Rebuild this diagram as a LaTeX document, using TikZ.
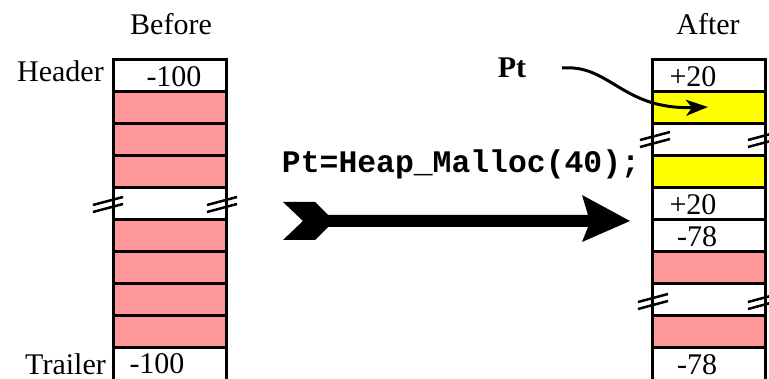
\documentclass[tikz,border=0pt]{standalone}
\usepackage{fontspec}
\setmainfont{Liberation Serif}
\setmonofont{Liberation Mono}
\usetikzlibrary{arrows.meta}
\definecolor{cellpink}{HTML}{FF9999}
\definecolor{cellyellow}{HTML}{FFFF00}
\newcommand\breakmark[3]{%
  \draw[brk] (#2-15,#3+0) -- (#2+15,#3-8);
  \draw[brk] (#2-15,#3+7) -- (#2+15,#3-1);
  \coordinate (#1) at (#2,#3);}
\begin{document}
\begin{tikzpicture}[x=1pt,y=-1pt,
  cell/.style={draw, line width=3pt, minimum width=113pt, minimum height=32pt,
               inner sep=0pt, outer sep=0pt, anchor=north west},
  wcell/.style={cell, fill=white},
  pcell/.style={cell, fill=cellpink},
  ycell/.style={cell, fill=cellyellow},
  txt/.style={font=\fontsize{30}{34}\selectfont, anchor=base, inner sep=0pt},
  brk/.style={line width=2.5pt},
  ptr/.style={line width=3pt, -{Stealth[length=22pt,width=16pt,inset=6pt]}}]
\useasboundingbox (0,0) rectangle (769,379);
\clip (0,0) rectangle (769,379);

% Before column
\node[wcell] (L0) at (113,60) {};
\node[pcell] (L1) at (113,92) {};
\node[pcell] (L2) at (113,124) {};
\node[pcell] (L3) at (113,156) {};
\node[wcell] (L4) at (113,188) {};
\node[pcell] (L5) at (113,220) {};
\node[pcell] (L6) at (113,252) {};
\node[pcell] (L7) at (113,284) {};
\node[pcell] (L8) at (113,316) {};
\node[cell, minimum height=40pt] (L9) at (113,348) {};
\breakmark{bl1}{108}{205}
\breakmark{bl2}{222}{205}

% After column
\node[wcell] (R0) at (652,60) {};
\node[ycell] (R1) at (652,92) {};
\node[wcell] (R2) at (652,124) {};
\node[ycell] (R3) at (652,156) {};
\node[wcell] (R4) at (652,188) {};
\node[wcell] (R5) at (652,220) {};
\node[pcell] (R6) at (652,252) {};
\node[wcell] (R7) at (652,284) {};
\node[pcell] (R8) at (652,316) {};
\node[cell, minimum height=40pt] (R9) at (652,348) {};
\breakmark{br1}{655}{140}
\breakmark{br2}{763}{140}
\breakmark{br3}{653}{302}
\breakmark{br4}{763}{302}

% Labels
\node[txt] (before) at (171,35) {Before};
\node[txt] (after) at (708,35) {After};
\node[txt, anchor=base east] (header) at (104,82) {Header};
\node[txt, anchor=base east] (trailer) at (106,375) {Trailer};
\node[txt] (h100) at (174,87) {-100};
\node[txt] (t100) at (157,374) {-100};
\node[txt] (r20a) at (693,87) {+20};
\node[txt] (r20b) at (693,215) {+20};
\node[txt] (r78a) at (697,247) {-78};
\node[txt] (r78b) at (697,375) {-78};
\node[txt, font=\fontsize{30}{34}\selectfont\bfseries] (pt) at (512,78) {Pt};
\node[txt, font=\fontsize{31.4}{36}\selectfont\ttfamily\bfseries] (code) at (461,173) {Pt=Heap\_Malloc(40);};

% Pointer arrow
\coordinate (ptstart) at (562,68);
\coordinate (ptend) at (708,107);
\draw[ptr] (ptstart) .. controls (610,64) and (622,110) .. (ptend);

% Big arrow
\coordinate (ba) at (283,202);
\fill (ba) -- (315,202) -- (328,215) -- (588,215) -- (582,195) -- (630,221)
  -- (582,242) -- (588,227) -- (328,227) -- (315,240) -- (283,240) -- (303,221) -- cycle;
\end{tikzpicture}
\end{document}
